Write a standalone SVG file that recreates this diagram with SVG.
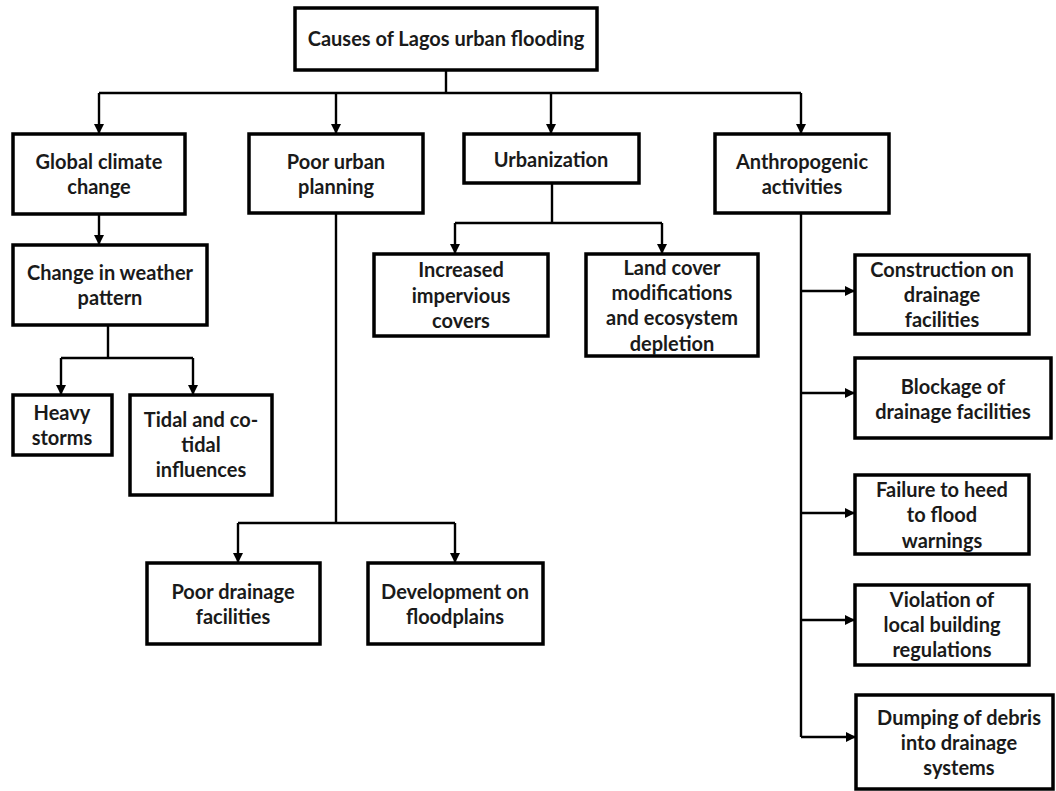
<svg xmlns="http://www.w3.org/2000/svg" width="1056" height="791" viewBox="0 0 1056 791">
<style>
.box{fill:#fff;stroke:#000;stroke-width:3.5}
.t{font-family:Lato,"Liberation Sans",sans-serif;font-weight:bold;font-size:20px;fill:#1a1a1a;text-anchor:middle}
.c{fill:none;stroke:#000;stroke-width:2.4}
.a{marker-end:url(#ah)}
</style>
<defs>
<marker id="ah" markerUnits="userSpaceOnUse" markerWidth="10" markerHeight="10" refX="9" refY="5" orient="auto" viewBox="0 0 10 10">
<path d="M0,0 L10,5 L0,10 z" fill="#000"/>
</marker>
</defs>
<rect width="1056" height="791" fill="#fff"/>
<g id="connectors">
<path class="c" d="M446 70 V93 M99 93 H801"/>
<path class="c a" d="M99 93 V133"/>
<path class="c a" d="M336 93 V133"/>
<path class="c a" d="M551 93 V133"/>
<path class="c a" d="M801 93 V133"/>
<path class="c a" d="M99 214 V244"/>
<path class="c" d="M108 325 V358 M61 358 H193"/>
<path class="c a" d="M61 358 V394"/>
<path class="c a" d="M193 358 V394"/>
<path class="c" d="M336 213 V523 M238 523 H455"/>
<path class="c a" d="M238 523 V562"/>
<path class="c a" d="M455 523 V562"/>
<path class="c" d="M552 183 V223 M455 223 H662"/>
<path class="c a" d="M455 223 V253"/>
<path class="c a" d="M662 223 V253"/>
<path class="c" d="M801 213 V737"/>
<path class="c a" d="M801 291 H854"/>
<path class="c a" d="M801 393 H854"/>
<path class="c a" d="M801 513 H854"/>
<path class="c a" d="M801 620 H854"/>
<path class="c a" d="M801 737 H855"/>
</g>
<g id="root"><rect class="box" x="295" y="8" width="302" height="62"/><text class="t" x="446" y="46">Causes of Lagos urban flooding</text></g>
<g id="global"><rect class="box" x="13" y="134" width="172" height="80"/><text class="t" x="99" y="169">Global climate</text><text class="t" x="99" y="194">change</text></g>
<g id="planning"><rect class="box" x="249" y="134" width="174" height="79"/><text class="t" x="336" y="169">Poor urban</text><text class="t" x="336" y="194">planning</text></g>
<g id="urbanization"><rect class="box" x="464" y="134" width="175" height="49"/><text class="t" x="551" y="167">Urbanization</text></g>
<g id="anthropogenic"><rect class="box" x="715" y="134" width="174" height="79"/><text class="t" x="802" y="169">Anthropogenic</text><text class="t" x="802" y="194">activities</text></g>
<g id="weather"><rect class="box" x="13" y="245" width="194" height="80"/><text class="t" x="110" y="280">Change in weather</text><text class="t" x="110" y="305">pattern</text></g>
<g id="storms"><rect class="box" x="13" y="395" width="99" height="60"/><text class="t" x="62" y="420">Heavy</text><text class="t" x="62" y="445">storms</text></g>
<g id="tidal"><rect class="box" x="130" y="395" width="142" height="100"/><text class="t" x="201" y="427">Tidal and co-</text><text class="t" x="201" y="452">tidal</text><text class="t" x="201" y="477">influences</text></g>
<g id="impervious"><rect class="box" x="374" y="254" width="174" height="82"/><text class="t" x="461" y="277">Increased</text><text class="t" x="461" y="303">impervious</text><text class="t" x="461" y="328">covers</text></g>
<g id="landcover"><rect class="box" x="586" y="254" width="172" height="102"/><text class="t" x="672" y="275">Land cover</text><text class="t" x="672" y="300">modifications</text><text class="t" x="672" y="325">and ecosystem</text><text class="t" x="672" y="351">depletion</text></g>
<g id="drainage"><rect class="box" x="147" y="563" width="173" height="81"/><text class="t" x="233" y="599">Poor drainage</text><text class="t" x="233" y="624">facilities</text></g>
<g id="floodplains"><rect class="box" x="368" y="563" width="175" height="81"/><text class="t" x="455" y="599">Development on</text><text class="t" x="455" y="624">floodplains</text></g>
<g id="construction"><rect class="box" x="855" y="255" width="174" height="79"/><text class="t" x="942" y="277">Construction on</text><text class="t" x="942" y="302">drainage</text><text class="t" x="942" y="327">facilities</text></g>
<g id="blockage"><rect class="box" x="855" y="358" width="196" height="80"/><text class="t" x="953" y="394">Blockage of</text><text class="t" x="953" y="419">drainage facilities</text></g>
<g id="failure"><rect class="box" x="855" y="475" width="174" height="79"/><text class="t" x="942" y="497">Failure to heed</text><text class="t" x="942" y="522">to flood</text><text class="t" x="942" y="548">warnings</text></g>
<g id="violation"><rect class="box" x="855" y="585" width="174" height="80"/><text class="t" x="942" y="607">Violation of</text><text class="t" x="942" y="632">local building</text><text class="t" x="942" y="657">regulations</text></g>
<g id="dumping"><rect class="box" x="856" y="695" width="197" height="94"/><text class="t" x="959" y="725">Dumping of debris</text><text class="t" x="959" y="750">into drainage</text><text class="t" x="959" y="775">systems</text></g>
</svg>
